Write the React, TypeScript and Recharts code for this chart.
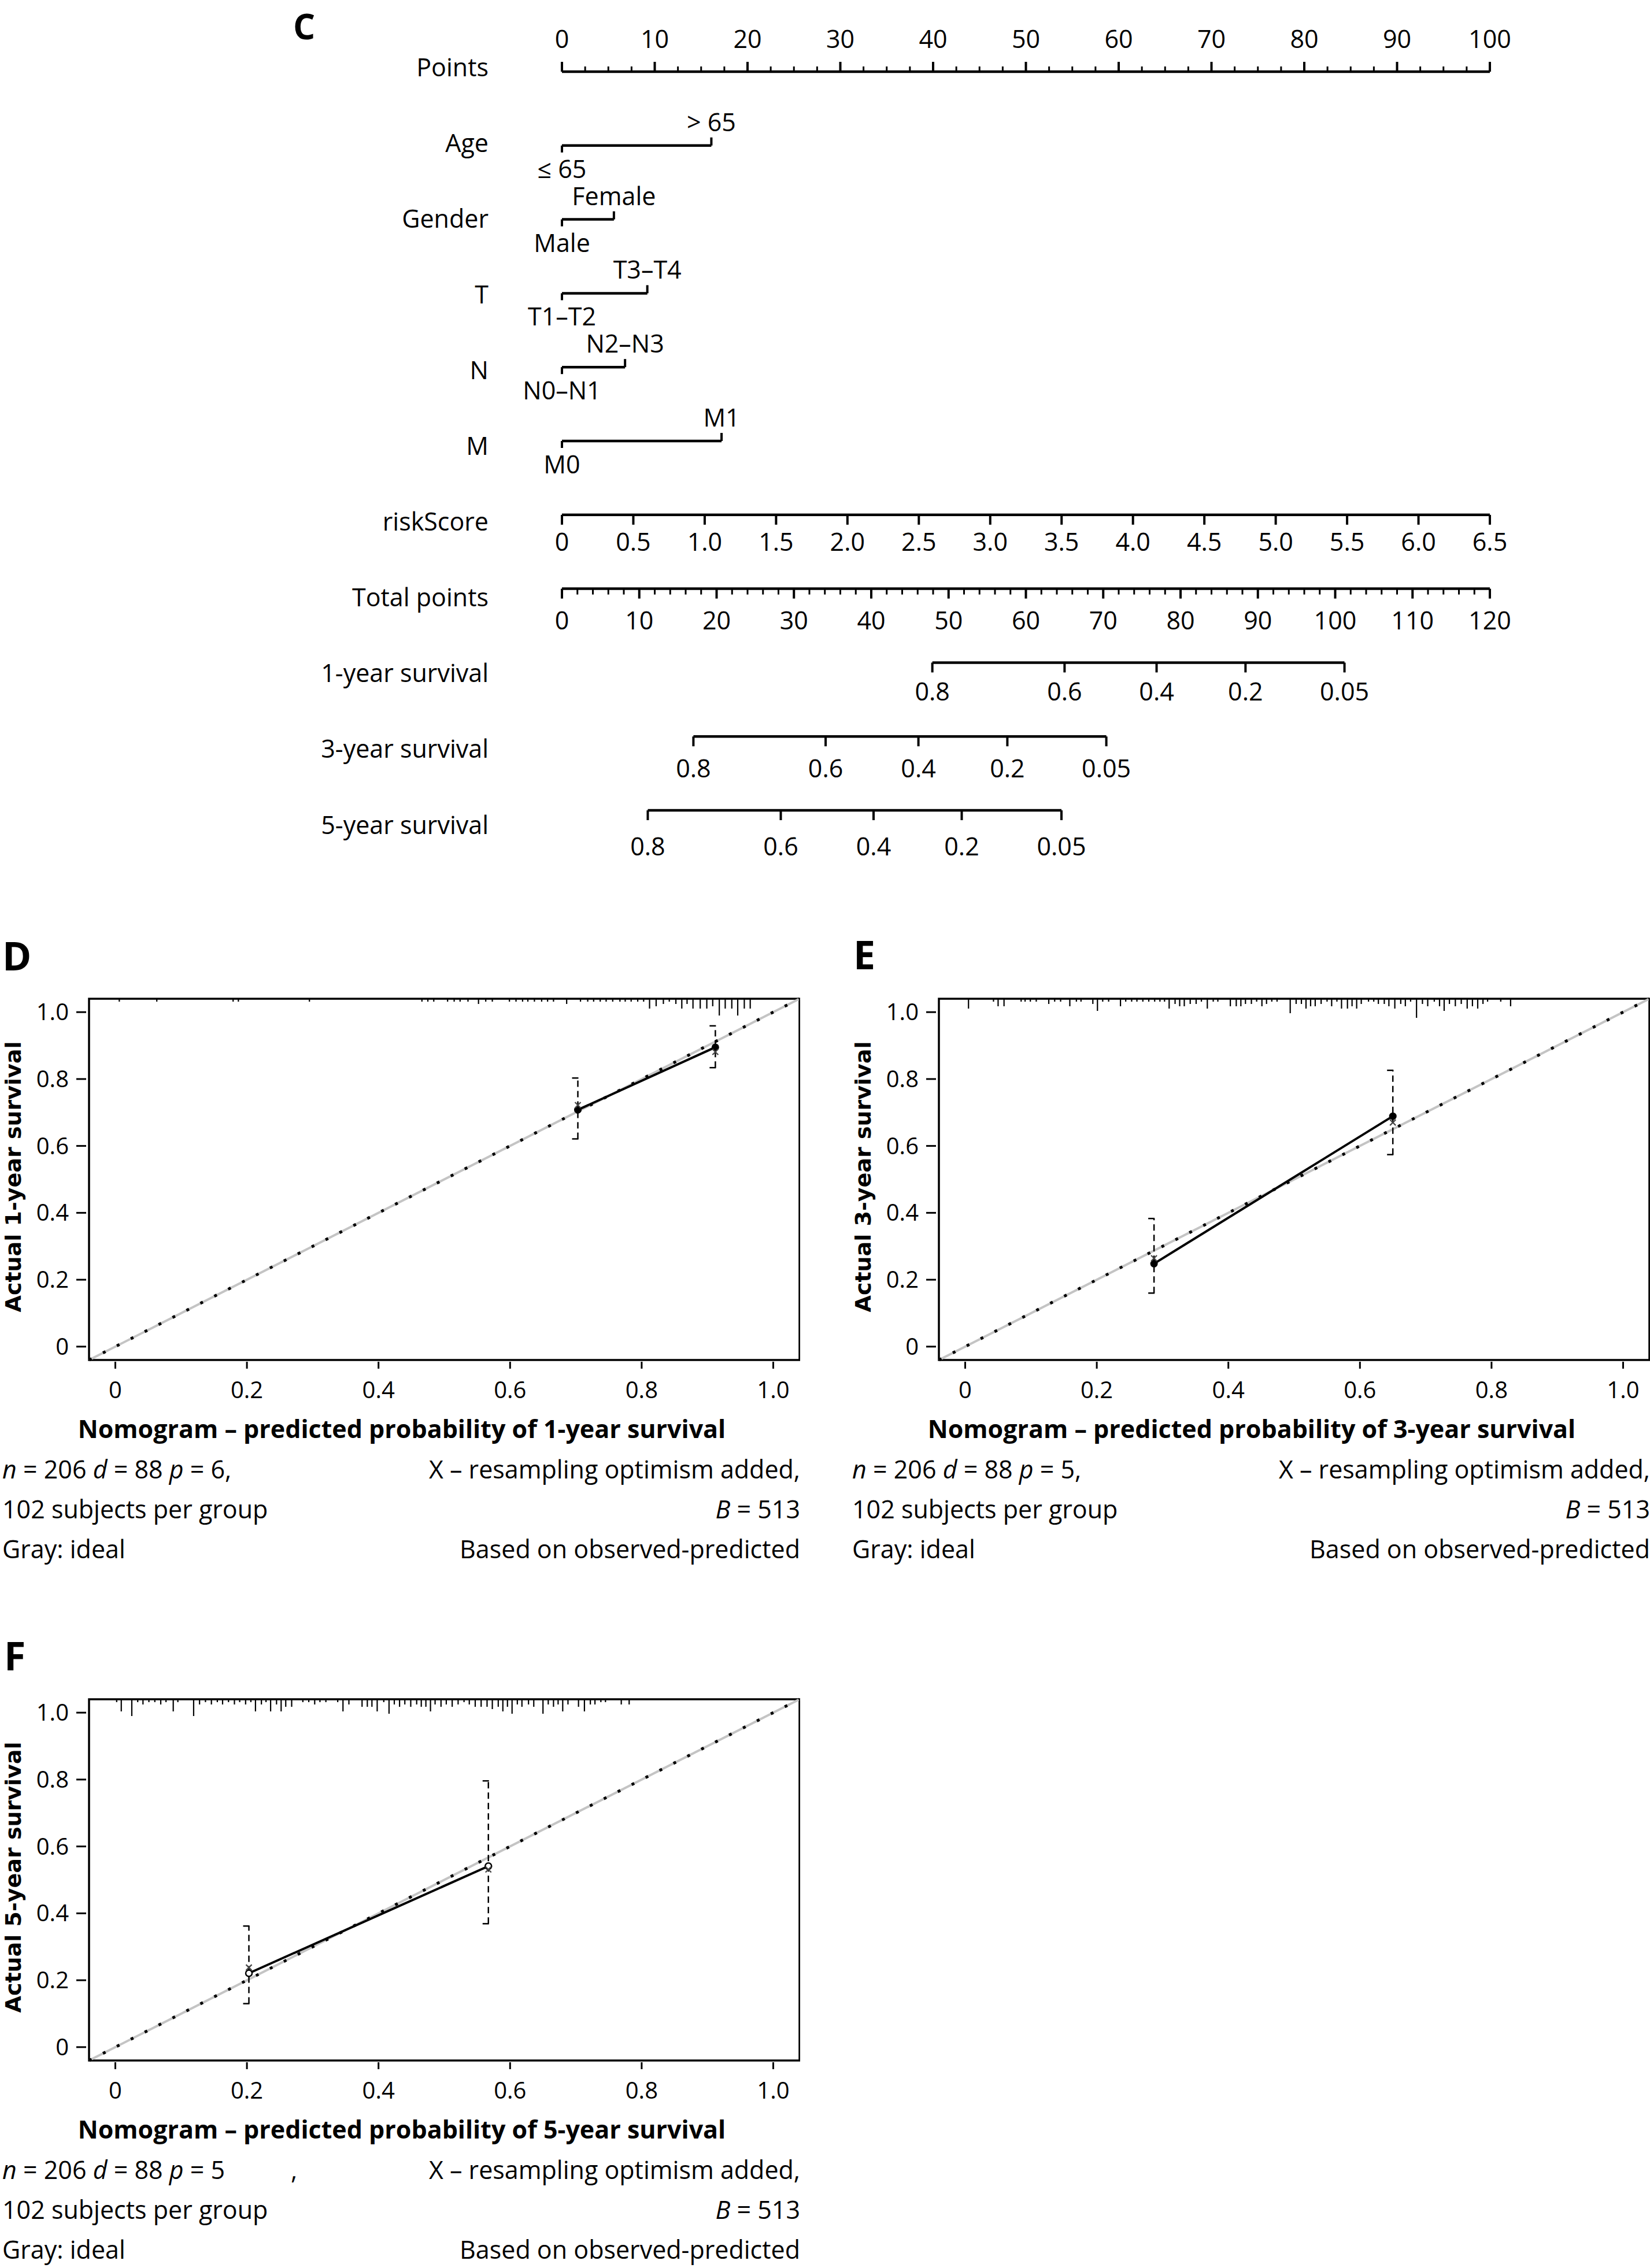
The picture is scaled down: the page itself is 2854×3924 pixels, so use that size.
import React from 'react';
import { ComposedChart, Scatter, Line, XAxis, YAxis, ReferenceLine, ReferenceArea } from 'recharts';

const FONT = "'Open Sans', 'Noto Sans', sans-serif";
const YT_FONT = "'DejaVu Sans', 'Verdana', sans-serif";
const INK = '#000';

// ---------------- Panel C : nomogram ----------------
const rowNames = ['Points', 'Age', 'Gender', 'T', 'N', 'M', 'riskScore', 'Total points', '1-year survival', '3-year survival', '5-year survival'];
const pointsTickLabels = [0, 10, 20, 30, 40, 50, 60, 70, 80, 90, 100];
const ageLevels = ['≤ 65', '> 65'];
const agePoints = [0, 16.1];
const genderLevels = ['Male', 'Female'];
const genderPoints = [0, 5.6];
const tLevels = ['T1–T2', 'T3–T4'];
const tPoints = [0, 9.2];
const nLevels = ['N0–N1', 'N2–N3'];
const nPoints = [0, 6.8];
const mLevels = ['M0', 'M1'];
const mPoints = [0, 17.2];
const riskScoreTicks = [0, 0.5, 1, 1.5, 2, 2.5, 3, 3.5, 4, 4.5, 5, 5.5, 6, 6.5];
const riskScoreLabels = ['0', '0.5', '1.0', '1.5', '2.0', '2.5', '3.0', '3.5', '4.0', '4.5', '5.0', '5.5', '6.0', '6.5'];
const totalPointsTickLabels = [0, 10, 20, 30, 40, 50, 60, 70, 80, 90, 100, 110, 120];
const survivalLabels = ['0.8', '0.6', '0.4', '0.2', '0.05'];
const survival1yTotalPoints = [47.9, 65.0, 76.9, 88.4, 101.2];
const survival3yTotalPoints = [17.0, 34.1, 46.1, 57.6, 70.4];
const survival5yTotalPoints = [11.1, 28.3, 40.3, 51.7, 64.6];

// ---------------- Panels D, E, F : calibration ----------------
const calTicks = [0, 0.2, 0.4, 0.6, 0.8, 1.0];
const predD = [0.703, 0.912];
const obsD = [0.708, 0.895];
const loD = [0.621, 0.834];
const hiD = [0.803, 0.959];
const corrD = [0.722, 0.881];
const predE = [0.287, 0.65];
const obsE = [0.248, 0.689];
const loE = [0.16, 0.574];
const hiE = [0.383, 0.826];
const corrE = [0.264, 0.67];
const predF = [0.203, 0.567];
const obsF = [0.221, 0.541];
const loF = [0.13, 0.369];
const hiF = [0.362, 0.796];
const corrF = [0.238, 0.531];

// spike histograms of predicted probabilities: [predicted, relative count]
const rugD = [[0.006,1],[0.063,1],[0.179,1],[0.187,1],[0.295,1],[0.466,1],[0.475,1],[0.484,1],[0.505,1],[0.515,1],[0.524,1],[0.536,1],[0.552,2],[0.563,1],[0.573,1],[0.599,1],[0.609,1],[0.619,1],[0.627,1],[0.637,1],[0.648,1],[0.657,1],[0.666,1],[0.686,2],[0.707,1],[0.718,1],[0.727,1],[0.737,1],[0.746,1],[0.756,1],[0.767,1],[0.775,1],[0.784,1],[0.794,1],[0.803,1],[0.812,4],[0.822,3],[0.833,2],[0.842,1],[0.852,2],[0.861,4],[0.869,2],[0.878,4],[0.889,4],[0.899,4],[0.908,3],[0.918,7],[0.927,4],[0.937,4],[0.946,7],[0.956,4],[0.965,4]];
const rugE = [[0.005,4],[0.043,1],[0.05,3],[0.059,3],[0.085,1],[0.091,1],[0.099,1],[0.108,1],[0.127,2],[0.136,1],[0.145,1],[0.159,3],[0.169,1],[0.176,1],[0.194,2],[0.201,5],[0.209,1],[0.218,1],[0.236,3],[0.244,1],[0.253,1],[0.261,1],[0.27,1],[0.279,1],[0.288,1],[0.296,1],[0.303,1],[0.31,4],[0.319,2],[0.326,3],[0.333,3],[0.342,2],[0.351,2],[0.359,1],[0.368,4],[0.377,1],[0.384,1],[0.403,3],[0.412,3],[0.419,3],[0.426,2],[0.435,2],[0.443,1],[0.451,3],[0.458,2],[0.466,1],[0.474,1],[0.494,6],[0.503,2],[0.511,2],[0.518,4],[0.525,3],[0.532,3],[0.541,2],[0.55,1],[0.557,3],[0.565,1],[0.572,4],[0.581,4],[0.588,3],[0.595,4],[0.602,2],[0.613,1],[0.621,1],[0.628,2],[0.637,2],[0.644,3],[0.653,4],[0.662,2],[0.669,3],[0.677,1],[0.686,8],[0.695,2],[0.703,3],[0.713,1],[0.721,3],[0.728,5],[0.736,2],[0.745,3],[0.754,2],[0.763,4],[0.771,3],[0.779,4],[0.787,2],[0.794,1],[0.814,1],[0.829,3]];
const rugF = [[0.002,1],[0.009,5],[0.025,7],[0.034,1],[0.042,2],[0.051,1],[0.06,1],[0.069,2],[0.077,1],[0.088,5],[0.095,1],[0.119,7],[0.128,2],[0.137,1],[0.146,2],[0.155,1],[0.163,2],[0.172,1],[0.181,2],[0.189,1],[0.198,2],[0.206,1],[0.213,5],[0.222,2],[0.229,1],[0.236,5],[0.245,2],[0.252,5],[0.259,3],[0.268,3],[0.285,1],[0.294,1],[0.303,2],[0.311,1],[0.32,1],[0.338,1],[0.346,5],[0.355,2],[0.375,3],[0.383,3],[0.39,3],[0.398,5],[0.408,1],[0.416,6],[0.424,2],[0.432,3],[0.44,2],[0.449,3],[0.458,2],[0.465,3],[0.472,3],[0.479,5],[0.486,2],[0.495,3],[0.503,2],[0.512,3],[0.521,2],[0.53,1],[0.538,2],[0.547,3],[0.556,3],[0.565,3],[0.573,4],[0.582,3],[0.589,5],[0.596,3],[0.603,6],[0.611,2],[0.618,3],[0.628,2],[0.636,3],[0.65,6],[0.658,2],[0.666,3],[0.673,2],[0.68,5],[0.688,2],[0.704,3],[0.713,5],[0.722,2],[0.729,2],[0.738,1],[0.745,1],[0.769,2],[0.781,2]];

const footerSubjects = '102 subjects per group';
const footerGray = 'Gray: ideal';
const footerOptimism = 'X – resampling optimism added,';
const footerB = '513';
const footerBased = 'Based on observed-predicted';

// ---------------- helpers ----------------
type Tick = { x: number; y: number; label: string; major?: boolean; pos?: string };

const buildCat = (levels: string[], pts: number[], row: number): Tick[] =>
  levels.map((label, i) => ({ x: pts[i], y: row, label, pos: i === 0 ? 'below' : 'above' }));

const pointsData: Tick[] = [];
for (let k = 0; k <= 40; k++) {
  const v = k * 2.5;
  const major = pointsTickLabels.includes(v);
  pointsData.push({ x: v, y: 0, major, label: major ? String(v) : '' });
}
const totalData: Tick[] = [];
for (let k = 0; k <= 60; k++) {
  const v = k * 2;
  const major = totalPointsTickLabels.includes(v);
  totalData.push({ x: v, y: 7, major, label: major ? String(v) : '' });
}
const riskData: Tick[] = riskScoreTicks.map((v, i) => ({ x: v, y: 6, label: riskScoreLabels[i] }));
const surv1Data: Tick[] = survival1yTotalPoints.map((v, i) => ({ x: v, y: 8, label: survivalLabels[i] }));
const surv3Data: Tick[] = survival3yTotalPoints.map((v, i) => ({ x: v, y: 9, label: survivalLabels[i] }));
const surv5Data: Tick[] = survival5yTotalPoints.map((v, i) => ({ x: v, y: 10, label: survivalLabels[i] }));
const catRows: { data: Tick[] }[] = [
  { data: buildCat(ageLevels, agePoints, 1) },
  { data: buildCat(genderLevels, genderPoints, 2) },
  { data: buildCat(tLevels, tPoints, 3) },
  { data: buildCat(nLevels, nPoints, 4) },
  { data: buildCat(mLevels, mPoints, 5) },
];

const UpTick = (p: any) => {
  const { cx, cy, payload } = p;
  const len = payload.major ? 17 : 9;
  return (
    <g>
      <line x1={cx} x2={cx} y1={cy} y2={cy - len} stroke={INK} strokeWidth={payload.major ? 4 : 3} />
      {payload.label ? (
        <text x={cx} y={cy - 41} textAnchor="middle" fontFamily={FONT} fontSize={43} fill={INK}>{payload.label}</text>
      ) : null}
    </g>
  );
};

const makeDownTick = (labelDy: number) => (p: any) => {
  const { cx, cy, payload } = p;
  const minor = payload.major === false;
  const len = minor ? 10 : 17;
  return (
    <g>
      <line x1={cx} x2={cx} y1={cy} y2={cy + len} stroke={INK} strokeWidth={minor ? 3 : 4} />
      {payload.label ? (
        <text x={cx} y={cy + labelDy} textAnchor="middle" fontFamily={FONT} fontSize={43} fill={INK}>{payload.label}</text>
      ) : null}
    </g>
  );
};

const CatTick = (p: any) => {
  const { cx, cy, payload } = p;
  const below = payload.pos === 'below';
  return (
    <g>
      <line x1={cx} x2={cx} y1={cy} y2={below ? cy + 12 : cy - 14} stroke={INK} strokeWidth={4} />
      <text x={cx} y={below ? cy + 56 : cy - 25} textAnchor="middle" fontFamily={FONT} fontSize={43} fill={INK}>{payload.label}</text>
    </g>
  );
};

const RowLabelTick = (p: any) => {
  const { x, y, payload } = p;
  const i = Number(payload.value);
  return (
    <text x={x - 127} y={y - 8 + 3.3 * i + 15.5} textAnchor="end" fontFamily={FONT} fontSize={43} fill={INK}>{rowNames[i]}</text>
  );
};

const segLine = (data: Tick[], xId: string, row: number, key: string) => {
  const xs = data.map((d) => d.x);
  return (
    <ReferenceLine
      key={key}
      xAxisId={xId}
      yAxisId="row"
      segment={[{ x: Math.min(...xs), y: row }, { x: Math.max(...xs), y: row }]}
      stroke={INK}
      strokeWidth={4.5}
      ifOverflow="visible"
    />
  );
};

function Nomogram() {
  const rows = [0, 1, 2, 3, 4, 5, 6, 7, 8, 9, 10];
  return (
    <div style={{ position: 'absolute', left: 0, top: 0 }}>
      <ComposedChart width={2854} height={1540} margin={{ top: 124, right: 277, bottom: 138, left: 971 }}>
        <XAxis xAxisId="pts" type="number" dataKey="x" domain={[0, 100]} hide />
        <XAxis xAxisId="risk" type="number" dataKey="x" domain={[0, 6.5]} hide />
        <XAxis xAxisId="tot" type="number" dataKey="x" domain={[0, 120]} hide />
        <YAxis
          yAxisId="row"
          type="number"
          dataKey="y"
          domain={[0, 10]}
          reversed
          ticks={rows}
          interval={0}
          width={1}
          axisLine={false}
          tickLine={false}
          tickSize={0}
          tickMargin={0}
          tick={<RowLabelTick />}
        />
        {segLine(pointsData, 'pts', 0, 'l0')}
        {catRows.map((r, i) => segLine(r.data, 'pts', i + 1, 'lc' + i))}
        {segLine(riskData, 'risk', 6, 'l6')}
        {segLine(totalData, 'tot', 7, 'l7')}
        {segLine(surv1Data, 'tot', 8, 'l8')}
        {segLine(surv3Data, 'tot', 9, 'l9')}
        {segLine(surv5Data, 'tot', 10, 'l10')}
        <Scatter data={pointsData} xAxisId="pts" yAxisId="row" shape={UpTick} isAnimationActive={false} />
        {catRows.map((r, i) => (
          <Scatter key={'c' + i} data={r.data} xAxisId="pts" yAxisId="row" shape={CatTick} isAnimationActive={false} />
        ))}
        <Scatter data={riskData} xAxisId="risk" yAxisId="row" shape={makeDownTick(62)} isAnimationActive={false} />
        <Scatter data={totalData} xAxisId="tot" yAxisId="row" shape={makeDownTick(70)} isAnimationActive={false} />
        <Scatter data={surv1Data} xAxisId="tot" yAxisId="row" shape={makeDownTick(66)} isAnimationActive={false} />
        <Scatter data={surv3Data} xAxisId="tot" yAxisId="row" shape={makeDownTick(71)} isAnimationActive={false} />
        <Scatter data={surv5Data} xAxisId="tot" yAxisId="row" shape={makeDownTick(78)} isAnimationActive={false} />
      </ComposedChart>
    </div>
  );
}

// ---------------- calibration panels ----------------
const DOM: [number, number] = [-0.04, 1.04];
const PX_PER_Y = 625 / 1.08;
const fmtCal = (v: number) => (v === 0 ? '0' : v.toFixed(1));

const CalXTick = (p: any) => {
  const { x, y, payload } = p;
  return (
    <g>
      <line x1={x} x2={x} y1={y + 3} y2={y + 15} stroke={INK} strokeWidth={3} />
      <text x={x} y={y + 66} textAnchor="middle" fontFamily={FONT} fontSize={40} fill={INK}>{fmtCal(payload.value)}</text>
    </g>
  );
};
const CalYTick = (p: any) => {
  const { x, y, payload } = p;
  return (
    <g>
      <line x1={x - 22} x2={x - 5} y1={y} y2={y} stroke={INK} strokeWidth={3} />
      <text x={x - 35} y={y + 14} textAnchor="end" fontFamily={FONT} fontSize={40} fill={INK}>{fmtCal(payload.value)}</text>
    </g>
  );
};
const CapShape = (p: any) => {
  const { cx, cy } = p;
  return <line x1={cx - 10} x2={cx + 1} y1={cy} y2={cy} stroke={INK} strokeWidth={2.5} />;
};
const FilledDot = (p: any) => <circle cx={p.cx} cy={p.cy} r={6.5} fill={INK} />;
const OpenDot = (p: any) => <circle cx={p.cx} cy={p.cy} r={5.5} fill="#fff" stroke={INK} strokeWidth={2.5} />;
const XMark = (p: any) => {
  const { cx, cy } = p;
  const s = 5;
  return (
    <g stroke="#444" strokeWidth={2.2}>
      <line x1={cx - s} y1={cy - s} x2={cx + s} y2={cy + s} />
      <line x1={cx - s} y1={cy + s} x2={cx + s} y2={cy - s} />
    </g>
  );
};

type Cal = { pred: number[]; obs: number[]; lo: number[]; hi: number[]; corr: number[]; rug: number[][]; open: boolean };

function CalChart({ left, top, cal }: { left: number; top: number; cal: Cal }) {
  const pts = cal.pred.map((p, i) => ({ x: p, y: cal.obs[i] }));
  const corr = cal.pred.map((p, i) => ({ x: p, y: cal.corr[i] }));
  const caps = cal.pred.flatMap((p, i) => [{ x: p, y: cal.lo[i] }, { x: p, y: cal.hi[i] }]);
  return (
    <div style={{ position: 'absolute', left, top }}>
      <ComposedChart width={1384} height={900} margin={{ top: 128, right: 1, bottom: 146, left: 153 }}>
        <XAxis type="number" dataKey="x" domain={DOM} ticks={calTicks} allowDataOverflow height={1} axisLine={false} tickLine={false} tickSize={0} tickMargin={0} interval={0} tick={<CalXTick />} />
        <YAxis type="number" dataKey="y" domain={DOM} ticks={calTicks} allowDataOverflow width={1} axisLine={false} tickLine={false} tickSize={0} tickMargin={0} interval={0} tick={<CalYTick />} />
        <ReferenceLine segment={[{ x: DOM[0], y: DOM[0] }, { x: DOM[1], y: DOM[1] }]} stroke="#c4c4c4" strokeWidth={4} ifOverflow="visible" />
        <ReferenceLine segment={[{ x: DOM[0], y: DOM[0] }, { x: DOM[1], y: DOM[1] }]} stroke={INK} strokeWidth={5} strokeDasharray="5 22" ifOverflow="visible" />
        {cal.rug.map(([v, c], i) => (
          <ReferenceLine key={'r' + i} segment={[{ x: v, y: DOM[1] }, { x: v, y: DOM[1] - (1 + 4 * c) / PX_PER_Y }]} stroke={INK} strokeWidth={2.2} ifOverflow="visible" />
        ))}
        {cal.pred.map((p, i) => (
          <ReferenceLine key={'e' + i} segment={[{ x: p, y: cal.lo[i] }, { x: p, y: cal.hi[i] }]} stroke={INK} strokeWidth={2.5} strokeDasharray="11 7" ifOverflow="visible" />
        ))}
        <Line data={pts} dataKey="y" type="linear" stroke={INK} strokeWidth={4} dot={false} isAnimationActive={false} />
        <Scatter data={caps} shape={CapShape} isAnimationActive={false} />
        <Scatter data={pts} shape={cal.open ? OpenDot : FilledDot} isAnimationActive={false} />
        <Scatter data={corr} shape={XMark} isAnimationActive={false} />
        <ReferenceArea x1={DOM[0]} x2={DOM[1]} y1={DOM[0]} y2={DOM[1]} fill="none" fillOpacity={0} stroke={INK} strokeWidth={3.5} ifOverflow="visible" />
      </ComposedChart>
    </div>
  );
}

const calPanels = [
  { letter: 'D', year: '1', p: '6', dx: 0, dy: 0, lx: 4, ly: 1679, lateComma: false },
  { letter: 'E', year: '3', p: '5', dx: 1470, dy: 0, lx: 1476, ly: 1677, lateComma: false },
  { letter: 'F', year: '5', p: '5', dx: 0, dy: 1212, lx: 7, ly: 2890, lateComma: true },
];

function TextOverlay() {
  return (
    <svg width={2854} height={3924} style={{ position: 'absolute', left: 0, top: 0, pointerEvents: 'none' }}>
      <text x={507} y={68} fontFamily={FONT} fontWeight={700} fontSize={60} fill={INK}>C</text>
      {calPanels.map((c) => (
        <g key={c.letter}>
          <text x={c.lx} y={c.ly} fontFamily={FONT} fontWeight={700} fontSize={68} fill={INK}>{c.letter}</text>
          <g transform={`translate(${c.dx},${c.dy})`}>
            <text transform="translate(23,2036) rotate(-90)" textAnchor="middle" dominantBaseline="central" fontFamily={YT_FONT} fontWeight={700} fontSize={38} fill={INK}>
              {`Actual ${c.year}-year survival`}
            </text>
            <text x={695} y={2488} textAnchor="middle" fontFamily={FONT} fontWeight={700} fontSize={43} fill={INK}>
              {`Nomogram – predicted probability of ${c.year}-year survival`}
            </text>
            <g fontFamily={FONT} fontSize={43} fill={INK}>
              <text x={4} y={2558}>
                <tspan fontStyle="italic">n</tspan> = 206 <tspan fontStyle="italic">d</tspan> = 88 <tspan fontStyle="italic">p</tspan>{` = ${c.p}${c.lateComma ? '' : ','}`}
              </text>
              {c.lateComma ? <text x={503} y={2558}>,</text> : null}
              <text x={4} y={2627}>{footerSubjects}</text>
              <text x={4} y={2696}>{footerGray}</text>
              <text x={1384} y={2558} textAnchor="end">{footerOptimism}</text>
              <text x={1384} y={2627} textAnchor="end"><tspan fontStyle="italic">B</tspan>{` = ${footerB}`}</text>
              <text x={1384} y={2696} textAnchor="end">{footerBased}</text>
            </g>
          </g>
        </g>
      ))}
    </svg>
  );
}

export default function App() {
  return (
    <div style={{ position: 'absolute', left: 0, top: 0, width: 2854, height: 3924, background: '#fff', overflow: 'hidden' }}>
      <Nomogram />
      <CalChart left={0} top={1600} cal={{ pred: predD, obs: obsD, lo: loD, hi: hiD, corr: corrD, rug: rugD, open: false }} />
      <CalChart left={1470} top={1600} cal={{ pred: predE, obs: obsE, lo: loE, hi: hiE, corr: corrE, rug: rugE, open: false }} />
      <CalChart left={0} top={2812} cal={{ pred: predF, obs: obsF, lo: loF, hi: hiF, corr: corrF, rug: rugF, open: true }} />
      <TextOverlay />
    </div>
  );
}
